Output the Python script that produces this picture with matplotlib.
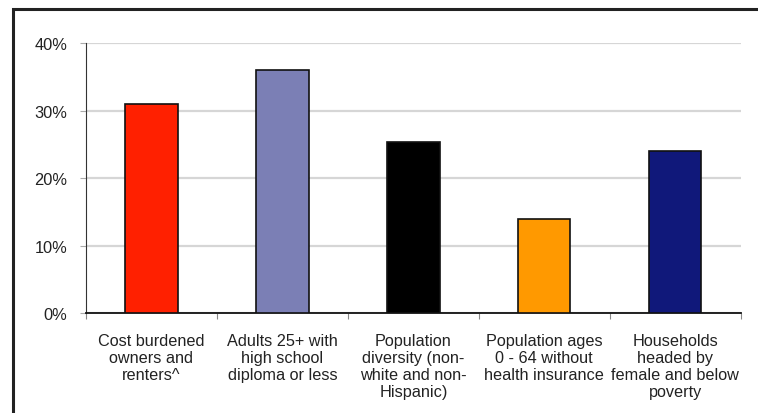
import matplotlib.pyplot as plt
from matplotlib.patches import Rectangle
import numpy as np

categories = ['Cost burdened\nowners and\nrenters^',
              'Adults 25+ with\nhigh school\ndiploma or less',
              'Population\ndiversity (non-\nwhite and non-\nHispanic)',
              'Population ages\n0 - 64 without\nhealth insurance',
              'Households\nheaded by\nfemale and below\npoverty']
values = [31.0, 36.0, 25.3, 13.9, 24.0]
colors = ['#ff2000', '#7b7fb5', '#000000', '#ff9900', '#10187a']

plt.rcParams['font.family'] = ['Liberation Sans', 'DejaVu Sans']

fig = plt.figure(figsize=(7.58, 4.14), dpi=100)
ax = fig.add_axes([86 / 758, 1 - 314.3 / 414, (740.7 - 86) / 758, (314.3 - 44) / 414])

# frame around the whole chart
fig.patches.append(Rectangle((13 / 758, -0.1), 1.1, 1 - 10 / 414 + 0.1,
                             transform=fig.transFigure, fill=False,
                             edgecolor='#222222', linewidth=2.2))

x = np.arange(len(categories))
ax.bar(x, values, width=0.4, color=colors, edgecolor='#111111', linewidth=1.2, zorder=3)

ax.set_xlim(-0.5, len(categories) - 0.5)
ax.set_ylim(0, 40)
ax.set_yticks([0, 10, 20, 30, 40])
ax.set_yticklabels(['0%', '10%', '20%', '30%', '40%'], fontsize=11.8, color='#222222')
ax.yaxis.grid(True, color='#d6d6d6', linewidth=1.6, zorder=0)
ax.set_axisbelow(True)

ax.set_xticks(np.arange(-0.5, len(categories), 1.0))
ax.set_xticklabels([])
ax.set_xticks(x, minor=True)
ax.set_xticklabels(categories, minor=True, fontsize=11.7, color='#222222', linespacing=1.17)
ax.tick_params(axis='x', which='minor', length=0, pad=14)
ax.tick_params(axis='x', which='major', length=4, color='#888888', direction='out')
ax.tick_params(axis='y', length=4.3, color='#aaaaaa', pad=9)

for s in ['top', 'right']:
    ax.spines[s].set_visible(False)
ax.spines['left'].set_color('#333333')
ax.spines['bottom'].set_color('#111111')
ax.spines['bottom'].set_linewidth(1.3)

fig.savefig('out.png', dpi=100)
